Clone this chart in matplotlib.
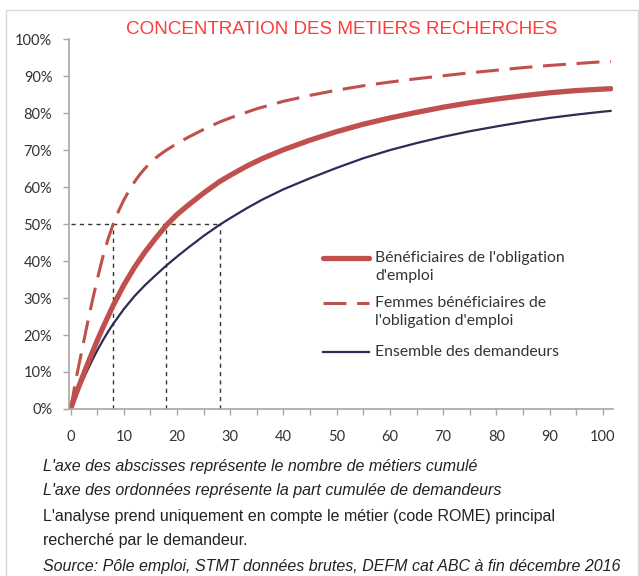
import matplotlib
matplotlib.use("Agg")
import matplotlib.pyplot as plt
from matplotlib.lines import Line2D
from matplotlib.patches import Rectangle

# ── data ────────────────────────────────────────────────
x_benef = [0, 1, 2, 3, 4, 5, 6, 8, 10, 12, 14, 16, 18, 20, 22, 25, 28, 30,
           33, 36, 40, 45, 50, 55, 60, 65, 70, 75, 80, 85, 90, 95, 100, 101.5]
y_benef = [0, 4, 7.8, 11.5, 15, 18.5, 21.8, 28, 33.5, 38.3, 42.5, 46.2, 49.7,
           52.6, 55, 58.4, 61.5, 63.2, 65.6, 67.7, 70.1, 72.7, 75, 77, 78.7,
           80.2, 81.6, 82.8, 83.8, 84.7, 85.5, 86.1, 86.5, 86.6]

x_femmes = [0, 1, 2, 3, 4, 5, 6, 7, 8, 9, 10, 11, 12, 13, 14, 15, 16, 17, 18,
            20, 22, 25, 28, 30, 35, 40, 45, 50, 55, 60, 65, 70, 75, 80, 85,
            90, 95, 100, 101.5]
y_femmes = [0, 8, 15, 22, 28.7, 35, 40.8, 45.8, 50, 53.5, 56.5, 59.1, 61.4,
            63.4, 65.1, 66.6, 67.9, 69, 70, 71.8, 73.4, 75.6, 77.6, 78.7, 81.2,
            83.2, 84.8, 86.2, 87.4, 88.4, 89.3, 90.1, 90.9, 91.6, 92.3, 92.9,
            93.4, 93.9, 94]

x_ens = [0, 1, 2, 3, 4, 5, 6, 7, 8, 9, 10, 12, 14, 16, 18, 20, 22, 25, 28,
         30, 33, 36, 40, 45, 50, 55, 60, 65, 70, 75, 80, 85, 90, 95, 100, 101.5]
y_ens = [0, 3.5, 6.8, 10, 13, 15.8, 18.4, 20.8, 23, 25, 27, 30.5, 33.5, 36.2,
         38.8, 41.2, 43.5, 46.8, 49.8, 51.6, 54.2, 56.6, 59.4, 62.4, 65.2,
         67.8, 70, 71.9, 73.6, 75.1, 76.4, 77.6, 78.7, 79.6, 80.4, 80.6]

half_x = [8, 18, 28]   # nb de métiers pour atteindre 50 %
half_y = 50

labels = ["Bénéficiaires de l'obligation\nd'emploi",
          "Femmes bénéficiaires de\nl'obligation d'emploi",
          "Ensemble des demandeurs"]
notes = [("L'axe des abscisses représente le nombre de métiers cumulé", "italic"),
         ("L'axe des ordonnées représente la part cumulée de demandeurs", "italic"),
         ("L'analyse prend uniquement en compte le métier (code ROME) principal", "normal"),
         ("recherché par le demandeur.", "normal"),
         ("Source: Pôle emploi, STMT données brutes, DEFM cat ABC à fin décembre 2016", "italic")]

RED = "#C0504D"
NAVY = "#2F2A57"
GREY = "#A6A6A6"

fig = plt.figure(figsize=(6.39, 5.76), dpi=100)
ax = fig.add_axes([0.108, 0.290, 0.852, 0.642])

# outer frame of the original picture
fig.add_artist(Rectangle((6 / 639, -0.1), 632 / 639, 1 - 10 / 576 + 0.1,
                         transform=fig.transFigure, fill=False,
                         edgecolor="#D9D9D9", lw=1))

for hx in half_x:
    ax.plot([hx, hx], [0, half_y], color="#333333", lw=1, ls=(0, (3, 3)))
ax.plot([0, max(half_x)], [half_y, half_y], color="#333333", lw=1, ls=(0, (3, 3)))

ax.plot(x_ens, y_ens, color=NAVY, lw=1.6, solid_capstyle="round")
ax.plot(x_benef, y_benef, color=RED, lw=3.8, solid_capstyle="round")
ax.plot(x_femmes, y_femmes, color=RED, lw=2.2, ls=(0, (7.5, 3.5)))

ax.set_xlim(-0.3, 102)
ax.set_ylim(0, 100)
ax.set_xticks(range(0, 101, 5))
ax.set_xticklabels([str(v) if v % 10 == 0 else "" for v in range(0, 101, 5)])
ax.set_yticks(range(0, 101, 10))
ax.set_yticklabels([f"{v}%" for v in range(0, 101, 10)])
for s in ["top", "right"]:
    ax.spines[s].set_visible(False)
for s in ["left", "bottom"]:
    ax.spines[s].set_color(GREY)
    ax.spines[s].set_linewidth(1.2)
ax.tick_params(colors=GREY, length=4, width=1, labelcolor="#333333",
               labelsize=10.5, labelfontfamily="Lato")
ax.tick_params(axis="x", pad=11)
ax.tick_params(axis="y", pad=8)

fig.text(342 / 639, 1 - 30 / 576, "CONCENTRATION DES METIERS RECHERCHES",
         ha="center", va="center", color="#FF3B3B", fontsize=13.6,
         family="Liberation Sans")

# legend, handle aligned with first line of each label
leg_y = [258, 303, 352]
styles = [dict(color=RED, lw=3.8, solid_capstyle="round"),
          dict(color=RED, lw=2.2, ls=(0, (7.5, 3.5))),
          dict(color=NAVY, lw=1.6)]
for yy, lab, st in zip(leg_y, labels, styles):
    yf = 1 - yy / 576
    fig.add_artist(Line2D([323 / 639, 369 / 639], [yf, yf],
                          transform=fig.transFigure, **st))
    fig.text(375 / 639, yf + 0.013, lab, ha="left", va="top", fontsize=11.3,
             family="Lato", color="#333333", linespacing=1.4)

note_y = [466, 490, 516, 540, 566]
for yy, (txt, style) in zip(note_y, notes):
    fig.text(43 / 639, 1 - yy / 576, txt, ha="left", va="center",
             fontsize=11.5, style=style, family="Liberation Sans",
             color="#222222")

fig.savefig("out.png", dpi=100)
